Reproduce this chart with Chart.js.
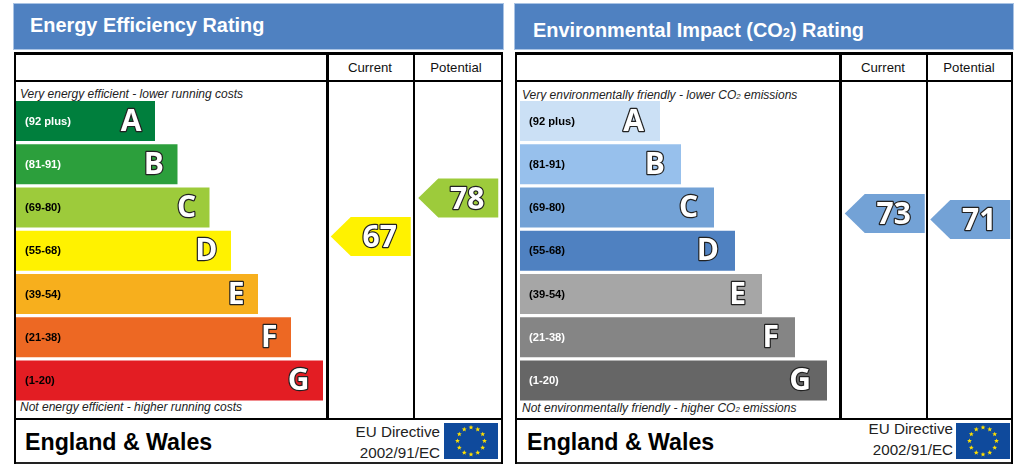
<!DOCTYPE html>
<html>
<head>
<meta charset="utf-8">
<script src="https://cdn.jsdelivr.net/npm/chart.js@4"></script>
<style>
  html, body { margin: 0; padding: 0; background: #fff; }
  body { width: 1024px; height: 468px; position: relative; overflow: hidden; font-family: "Liberation Sans", Arial, sans-serif; color: #111; }
  .abs { position: absolute; white-space: nowrap; }
  .head { background: #4f81c1; border: 1px solid #a9c3e4; box-sizing: border-box; top: 3px; height: 47px; }
  .title { color: #fff; font-weight: bold; font-size: 19.9px; line-height: 24px; }
  .line { position: absolute; background: #000; }
  .col { font-size: 13.2px; line-height: 16px; top: 60px; text-align: center; width: 84px; }
  .note { font-style: italic; font-size: 12px; line-height: 14px; color: #222; }
  .note sub, .title sub { font-size: 65%; vertical-align: baseline; }
  .nation { font-weight: bold; font-size: 23.2px; line-height: 28px; top: 428px; color: #000; }
  .eu { font-size: 15.2px; line-height: 18px; text-align: right; color: #222; }
  canvas { position: absolute; }
  svg { position: absolute; }
</style>
</head>
<body>

<!-- left panel -->
<div class="abs head" style="left:13px;width:491px"></div>
<div class="abs title" style="left:30px;top:13px">Energy Efficiency Rating</div>
<div class="line" style="left:14px;top:52px;width:489px;height:2.5px"></div>
<div class="line" style="left:14px;top:79.5px;width:489px;height:2.5px"></div>
<div class="line" style="left:14px;top:417.5px;width:489px;height:2.5px"></div>
<div class="line" style="left:14px;top:462px;width:489px;height:2px;background:#222"></div>
<div class="line" style="left:13.5px;top:52px;width:2px;height:412px"></div>
<div class="line" style="left:326px;top:52px;width:2.5px;height:367px"></div>
<div class="line" style="left:412.5px;top:52px;width:2.5px;height:367px"></div>
<div class="line" style="left:500.5px;top:52px;width:2px;height:412px"></div>
<div class="abs col" style="left:328px">Current</div>
<div class="abs col" style="left:414px">Potential</div>
<div class="abs note" style="left:20px;top:86.5px">Very energy efficient - lower running costs</div>
<div class="abs note" style="left:20px;top:400px">Not energy efficient - higher running costs</div>
<div class="abs nation" style="left:25px">England &amp; Wales</div>
<div class="abs eu" style="right:584px;top:423px">EU Directive</div>
<div class="abs eu" style="right:584px;top:444px">2002/91/EC</div>

<!-- right panel -->
<div class="abs head" style="left:514px;width:500px"></div>
<div class="abs title" style="left:533px;top:18px">Environmental Impact (CO<sub>2</sub>) Rating</div>
<div class="line" style="left:515px;top:52px;width:498px;height:2.5px"></div>
<div class="line" style="left:515px;top:79.5px;width:498px;height:2.5px"></div>
<div class="line" style="left:515px;top:417.5px;width:498px;height:2.5px"></div>
<div class="line" style="left:515px;top:462px;width:498px;height:2px;background:#222"></div>
<div class="line" style="left:515px;top:52px;width:2px;height:412px"></div>
<div class="line" style="left:839px;top:52px;width:2.5px;height:367px"></div>
<div class="line" style="left:925.5px;top:52px;width:2.5px;height:367px"></div>
<div class="line" style="left:1011px;top:52px;width:2px;height:412px"></div>
<div class="abs col" style="left:841px">Current</div>
<div class="abs col" style="left:927px">Potential</div>
<div class="abs note" style="left:522px;top:88px">Very environmentally friendly - lower CO<sub>2</sub> emissions</div>
<div class="abs note" style="left:522px;top:401px">Not environmentally friendly - higher CO<sub>2</sub> emissions</div>
<div class="abs nation" style="left:527px">England &amp; Wales</div>
<div class="abs eu" style="right:71px;top:420px">EU Directive</div>
<div class="abs eu" style="right:71px;top:441px">2002/91/EC</div>

<canvas id="energyBands" width="310" height="338" style="left:16px;top:80px"></canvas>
<canvas id="energyScores" width="175" height="338" style="left:327px;top:80px"></canvas>
<canvas id="co2Bands" width="310" height="338" style="left:520px;top:80px"></canvas>
<canvas id="co2Scores" width="171" height="338" style="left:842px;top:80px"></canvas>

<svg class="flag" style="left:443.5px;top:423px" width="54" height="36" viewBox="0 0 54 36"></svg>
<svg class="flag" style="left:956px;top:423px" width="54" height="36" viewBox="0 0 54 36"></svg>

<script>
const bands = ['(92 plus)', '(81-91)', '(69-80)', '(55-68)', '(39-54)', '(21-38)', '(1-20)'];
const grades = ['A', 'B', 'C', 'D', 'E', 'F', 'G'];
const columns = ['Current', 'Potential'];

// bar lengths
const energyLengths = [139, 161.5, 193.5, 215, 242, 275, 307];
const co2Lengths = [140, 161, 194, 215, 242, 275, 307];

const energyColors = ['#007f3d', '#2c9f3c', '#9dcb3b', '#fff200', '#f7af1d', '#ed6823', '#e31d23'];
const co2Colors = ['#cbe0f5', '#97c0ec', '#73a2d6', '#4f81c1', '#a6a6a6', '#858585', '#666666'];

const energyLabelColors = ['#fff', '#fff', '#000', '#000', '#000', '#000', '#000'];
const co2LabelColors = ['#000', '#000', '#000', '#000', '#000', '#fff', '#fff'];

const energyScores = [67, 78];
const co2Scores = [73, 71];
const energyScoreColors = ['#fff200', '#9dcb3b'];
const co2ScoreColors = ['#73a2d6', '#73a2d6'];

const GRADE_FONT = 'bold 30px "Open Sans"';

function outlined(ctx, text, x, y) {
  ctx.font = GRADE_FONT;
  ctx.textBaseline = 'middle';
  ctx.lineJoin = 'round';
  ctx.lineWidth = 2.4;
  ctx.strokeStyle = '#222';
  ctx.strokeText(text, x, y);
  ctx.fillStyle = '#fff';
  ctx.fillText(text, x, y);
}

// range text and grade letter on each bar
const bandText = {
  id: 'bandText',
  afterDatasetsDraw(chart) {
    const ctx = chart.ctx;
    const ds = chart.data.datasets[0];
    ctx.save();
    chart.getDatasetMeta(0).data.forEach((bar, i) => {
      ctx.font = 'bold 11.2px "Liberation Sans"';
      ctx.textAlign = 'left';
      ctx.textBaseline = 'middle';
      ctx.fillStyle = ds.labelColors[i];
      ctx.fillText(chart.data.labels[i], bar.base + 9, bar.y + 0.5);
      ctx.textAlign = 'right';
      outlined(ctx, grades[i], bar.x - ds.letterGap, bar.y + 1);
    });
    ctx.restore();
  }
};

// pentagon arrow holding the score
const scoreArrows = {
  id: 'scoreArrows',
  afterDatasetsDraw(chart) {
    const ctx = chart.ctx;
    const ds = chart.data.datasets[0];
    ctx.save();
    chart.getDatasetMeta(0).data.forEach((pt, i) => {
      const halfW = 40, halfH = 19.5, tip = 20;
      ctx.beginPath();
      ctx.moveTo(pt.x - halfW, pt.y);
      ctx.lineTo(pt.x - halfW + tip, pt.y - halfH);
      ctx.lineTo(pt.x + halfW, pt.y - halfH);
      ctx.lineTo(pt.x + halfW, pt.y + halfH);
      ctx.lineTo(pt.x - halfW + tip, pt.y + halfH);
      ctx.closePath();
      ctx.fillStyle = ds.arrowColors[i];
      ctx.fill();
      ctx.textAlign = 'center';
      outlined(ctx, String(ds.data[i]), pt.x + 9, pt.y + 2);
    });
    ctx.restore();
  }
};

function drawBands(id, lengths, colors, labelColors, letterGap) {
  new Chart(document.getElementById(id), {
    type: 'bar',
    data: {
      labels: bands,
      datasets: [{
        data: lengths,
        backgroundColor: colors,
        labelColors: labelColors,
        letterGap: letterGap,
        barPercentage: 0.926,
        categoryPercentage: 1
      }]
    },
    options: {
      indexAxis: 'y',
      responsive: false,
      animation: false,
      layout: { padding: { top: 19.5, bottom: 16 } },
      plugins: { legend: { display: false }, tooltip: { enabled: false } },
      scales: {
        x: { display: false, min: 0, max: 310 },
        y: { display: false }
      }
    },
    plugins: [bandText]
  });
}

function drawScores(id, scores, colors, yMin, yMax) {
  new Chart(document.getElementById(id), {
    type: 'line',
    data: {
      labels: columns,
      datasets: [{ data: scores, arrowColors: colors, showLine: false, pointRadius: 0 }]
    },
    options: {
      responsive: false,
      animation: false,
      plugins: { legend: { display: false }, tooltip: { enabled: false } },
      scales: {
        x: { display: false, offset: true },
        y: { display: false, min: yMin, max: yMax }
      }
    },
    plugins: [scoreArrows]
  });
}

drawBands('energyBands', energyLengths, energyColors, energyLabelColors, 13.5);
drawBands('co2Bands', co2Lengths, co2Colors, co2LabelColors, 16);
drawScores('energyScores', energyScores, energyScoreColors, 15.14, 111.7);
drawScores('co2Scores', co2Scores, co2ScoreColors, 4.83, 117.5);

// EU flag: ring of twelve stars
document.querySelectorAll('.flag').forEach(svg => {
  let html = '<rect width="54" height="36" fill="#0f4a9c"/>';
  for (let s = 0; s < 12; s++) {
    const a = s * Math.PI / 6;
    const cx = 27 + 13.5 * Math.sin(a), cy = 18 - 13.5 * Math.cos(a);
    const pts = [];
    for (let k = 0; k < 10; k++) {
      const r = k % 2 ? 1.1 : 2.6, b = k * Math.PI / 5;
      pts.push((cx + r * Math.sin(b)).toFixed(2) + ',' + (cy - r * Math.cos(b)).toFixed(2));
    }
    html += '<polygon fill="#ffe000" points="' + pts.join(' ') + '"/>';
  }
  svg.innerHTML = html;
});
</script>
</body>
</html>
